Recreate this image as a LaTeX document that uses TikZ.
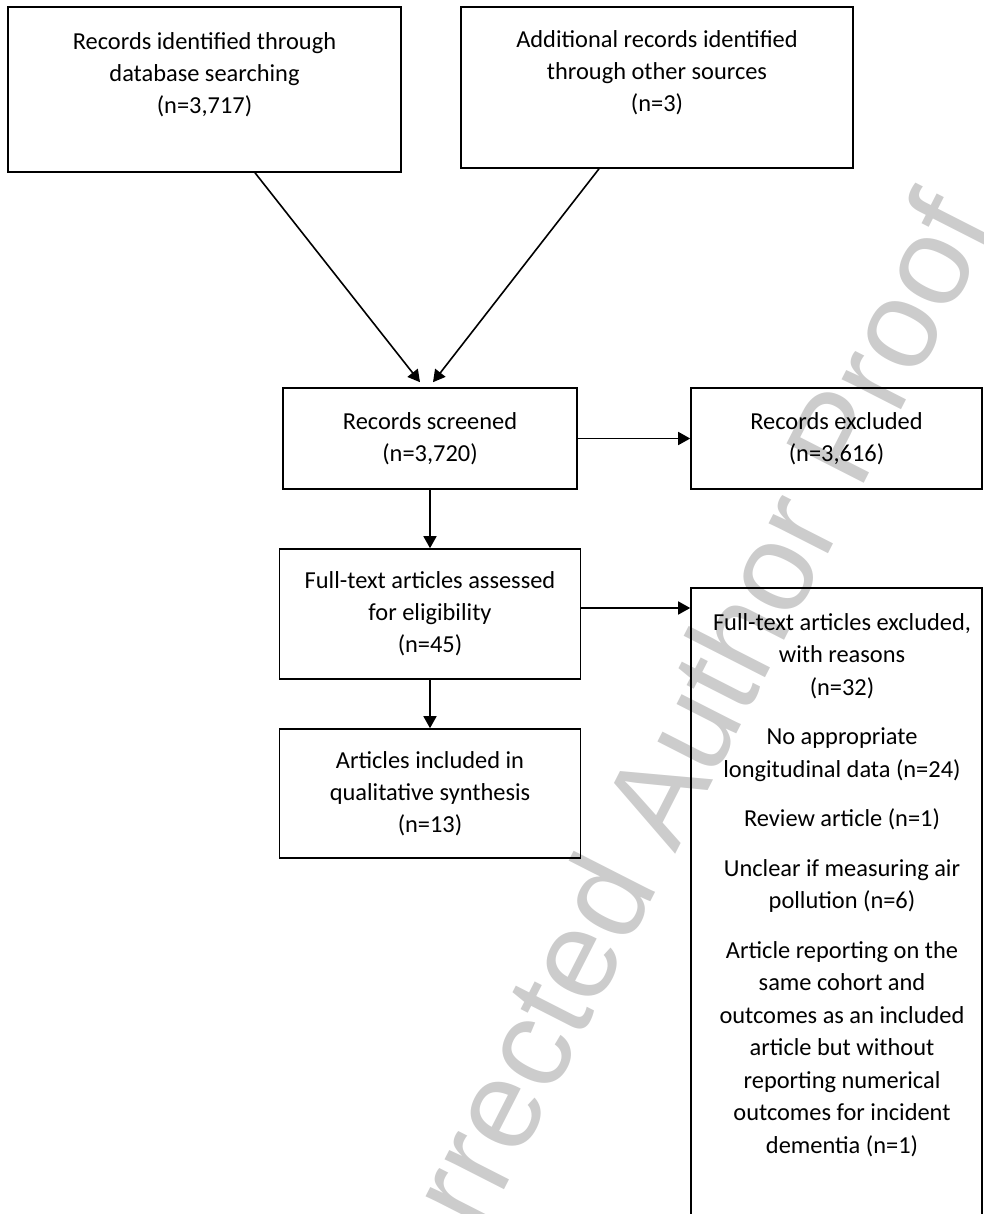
\documentclass[tikz,border=0pt]{standalone}
\usepackage{fontspec}
\setmainfont{Carlito}
\newfontfamily\wmfont{Liberation Sans}
\usetikzlibrary{arrows.meta}
\tikzset{
    >={Triangle[length=6pt, width=6.5pt]} % filled arrow tip
}
\tikzstyle{box}=[
    draw,
    line width = 0.8pt,
    align = center,
    inner sep = 0pt,
    font = \fontsize{12.2}{16}\selectfont
]
\tikzstyle{note}=[
    align = center,
    inner sep = 0pt,
    font = \fontsize{12.2}{16.25}\selectfont
]
\tikzstyle{link}=[line width = 0.8pt, ->]
\tikzstyle{stamp}=[
    text = black!20,
    font = \wmfont\fontsize{63}{63}\selectfont,
    rotate = 63
]

\begin{document}
\begin{tikzpicture}[x=0.5pt, y=-0.5pt]
    \useasboundingbox (0, 0) rectangle (984, 1214);
    \clip (0, 0) rectangle (984, 1214);

    % watermark
    \node [stamp] (wm) at (632, 840) {Uncorrected Author Proof};

    \node [box, minimum width = 196.5pt, minimum height = 82.5pt] (db) at (204.5, 89.5)
        {Records identified through\\database searching\\(n=3,717)\\\mbox{}};
    \node [box, minimum width = 196pt, minimum height = 80.5pt] (other) at (657, 87.5)
        {Additional records identified\\through other sources\\(n=3)\\\mbox{}};
    \node [box, minimum width = 147pt, minimum height = 50.5pt] (screen) at (430, 438.5)
        {Records screened\\(n=3,720)};
    \node [box, minimum width = 145.5pt, minimum height = 50.5pt] (rexcl) at (836.5, 438.5)
        {Records excluded\\(n=3,616)};
    \node [box, minimum width = 150.5pt, minimum height = 65pt] (ftext) at (430, 614)
        {Full-text articles assessed\\for eligibility\\(n=45)};
    \node [box, minimum width = 150.5pt, minimum height = 64.5pt] (incl) at (430, 793.5)
        {Articles included in\\qualitative synthesis\\(n=13)};
    \node [box, minimum width = 145.5pt, minimum height = 336pt] (fexcl) at (836.5, 924) {};
    \node [note, anchor = north] (why) at (842, 613)
        {Full-text articles excluded,\\with reasons\\(n=32)\\[8.5pt]
         No appropriate\\longitudinal data (n=24)\\[8.5pt]
         Review article (n=1)\\[8.5pt]
         Unclear if measuring air\\pollution (n=6)\\[8.5pt]
         Article reporting on the\\same cohort and\\outcomes as an included\\article but without\\reporting numerical\\outcomes for incident\\dementia (n=1)};

    \draw [link] ([xshift=25.25pt]db.south) -- ([xshift=-5pt, yshift=2.5pt]screen.north);
    \draw [link] ([xshift=-29pt]other.south) -- ([xshift=1.5pt, yshift=2.5pt]screen.north);
    \draw [link] (screen) -- (rexcl);
    \draw [link] (screen) -- (ftext);
    \draw [link] (ftext) -- (incl);
    \draw [link] ([yshift=3pt]ftext.east) -- ([yshift=3pt]ftext.east -| fexcl.west);
\end{tikzpicture}
\end{document}
